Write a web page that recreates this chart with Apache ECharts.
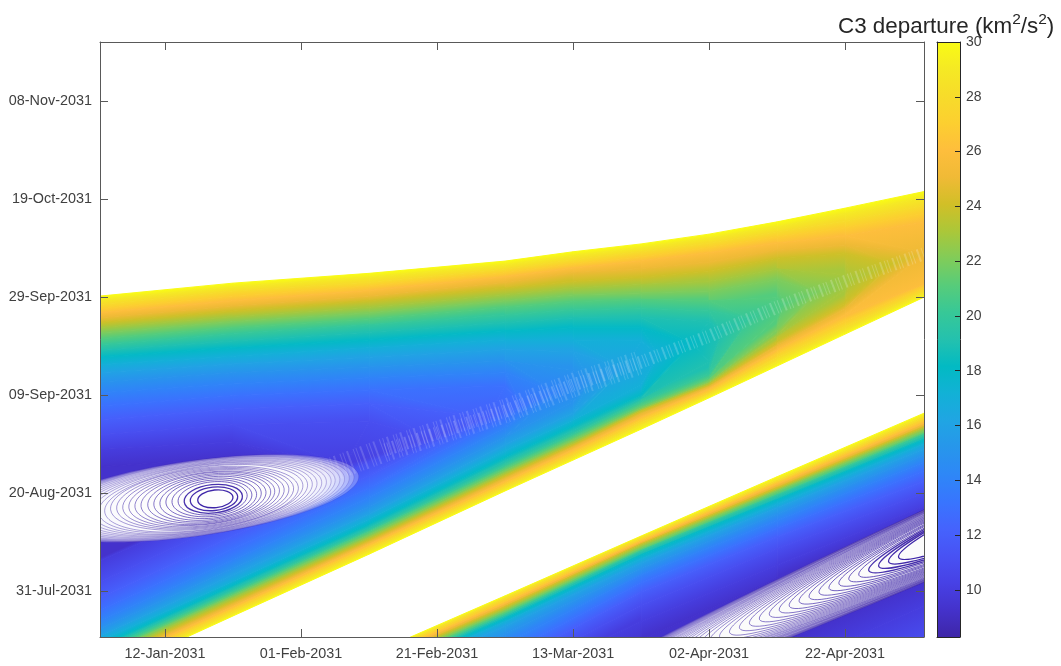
<!DOCTYPE html>
<html>
<head>
<meta charset="utf-8">
<script src="https://cdn.jsdelivr.net/npm/echarts@6/dist/echarts.min.js"></script>
<style>html,body{margin:0;padding:0;background:#fff}#c{width:1061px;height:666px}</style>
</head>
<body>
<div id="c"></div>
<script>
// Axes are in day-of-year 2031 (01-Jan = 0).
const xTickDays = [11, 31, 51, 71, 91, 111];
const xTickLabels = ['12-Jan-2031','01-Feb-2031','21-Feb-2031','13-Mar-2031','02-Apr-2031','22-Apr-2031'];
const yTickDays = [211, 231, 251, 271, 291, 311];
const yTickLabels = ['31-Jul-2031','20-Aug-2031','09-Sep-2031','29-Sep-2031','19-Oct-2031','08-Nov-2031'];
const colorTicks = [10,12,14,16,18,20,22,24,26,28,30];
const c3Min = 8.28, c3Max = 30;

const levels = [30,29,28,27,26,25,24,23,22,21,20,19,18,17,16,15,14,13,12,11,10,9.3];

// Upper window: arrival date of each C3 contour at these departure days.
const upperColumns = [1,21,41,61,71,81,91,101,111,123];
const upperBranch = [
 [271.1,273.8,275.8,278.3,280.2,281.8,283.8,286.3,289.1,292.6],
 [270.3,273.0,275.0,277.5,279.4,281.0,283.0,285.3,287.9,291.4],
 [269.4,272.2,274.0,276.7,278.5,280.2,282.0,284.3,286.5,289.8],
 [268.5,271.2,273.2,275.9,277.7,279.2,281.0,283.2,285.1,288.1],
 [267.7,270.2,272.3,275.1,276.9,278.3,280.0,282.0,283.4,286.3],
 [266.7,269.2,271.2,274.0,275.9,276.8,278.1,280.5,281.6,null],
 [265.7,268.1,270.2,272.8,274.2,275.0,276.3,278.9,279.8,null],
 [264.7,267.0,268.9,271.5,272.8,273.5,274.2,276.7,275.5,null],
 [263.6,265.9,267.7,270.2,271.4,271.8,272.2,274.5,null,null],
 [262.4,264.7,266.5,268.9,270.0,270.5,270.2,270.8,null,null],
 [261.2,263.4,265.3,267.3,268.3,268.7,268.1,null,null,null],
 [260.0,262.0,263.8,265.7,266.7,266.8,265.9,null,null,null],
 [258.7,260.6,262.2,264.1,264.7,264.7,null,null,null,null],
 [257.1,258.9,260.6,262.2,262.2,262.0,null,null,null,null],
 [255.5,257.3,258.7,260.2,259.8,null,null,null,null,null],
 [253.6,255.5,256.7,257.9,256.1,null,null,null,null,null],
 [251.4,253.2,254.5,255.5,null,null,null,null,null,null],
 [248.7,250.8,252.0,252.8,null,null,null,null,null,null],
 [245.9,248.1,249.2,null,null,null,null,null,null,null],
 [242.8,244.9,245.5,null,null,null,null,null,null,null],
 [239.8,241.4,null,null,null,null,null,null,null,null],
 [236.3,238.1,null,null,null,null,null,null,null,null]
];
const lowerBranch = [
 [193.2,205.9,218.5,231.4,237.7,244.0,250.4,256.9,263.4,271.2],
 [193.6,206.3,219.0,231.8,238.1,244.7,250.8,257.7,264.0,271.8],
 [194.1,206.8,219.5,232.3,238.6,245.3,251.2,258.5,264.9,272.4],
 [194.7,207.3,220.0,232.8,239.2,245.9,251.6,259.4,266.1,273.2],
 [195.2,207.8,220.5,233.4,239.8,246.5,252.2,260.2,267.3,273.8],
 [195.7,208.3,220.9,233.9,240.3,247.1,252.6,261.0,268.5,null],
 [196.3,208.9,221.4,234.5,240.8,247.7,253.0,261.8,269.7,null],
 [196.9,209.5,221.9,235.0,241.3,248.0,253.4,263.0,272.4,null],
 [197.5,210.0,222.4,235.5,241.8,248.3,253.8,264.3,null,null],
 [197.9,210.5,223.0,236.1,242.4,248.9,254.4,266.7,null,null],
 [198.5,211.0,223.4,236.7,243.0,249.6,255.3,null,null,null],
 [199.0,211.6,224.0,237.5,243.8,250.2,257.7,null,null,null],
 [199.6,212.2,224.7,238.3,244.7,251.0,null,null,null,null],
 [200.6,213.0,225.7,239.6,245.9,253.0,null,null,null,null],
 [201.6,214.3,226.7,240.8,247.3,null,null,null,null,null],
 [203.0,215.7,228.1,242.4,249.6,null,null,null,null,null],
 [204.7,217.3,230.0,244.3,null,null,null,null,null,null],
 [206.7,219.6,232.0,246.3,null,null,null,null,null,null],
 [209.4,222.2,234.5,null,null,null,null,null,null,null],
 [212.6,225.5,237.3,null,null,null,null,null,null,null],
 [216.9,229.2,null,null,null,null,null,null,null,null],
 [221.4,225.9,null,null,null,null,null,null,null,null]
];
// Where a contour closes on the valley: departure day, arrival day.
const tipDeparture = [null,null,null,null,null,123,118,111.7,106.9,101.9,97.0,92.9,88.5,83.5,78.5,73.5,68.5,63.5,58.5,50.0,37.5,33.8];
const tipArrival   = [null,null,null,null,null,280,277.8,274.5,272.0,269.4,266.7,264.0,261.6,259.2,256.5,254.0,251.6,248.9,246.5,242.2,236.7,235.7];

// Lower window.
const lowerColumns = [41,61,81,101,123];
const lowerWindowTop = [
 [197.9,210.0,222.2,234.3,247.5],
 [197.6,209.7,222.0,233.8,247.0],
 [197.3,209.4,221.7,233.5,246.5],
 [196.9,208.9,221.4,233.2,246.0],
 [196.5,208.5,221.1,232.8,245.5],
 [196.1,208.1,220.8,232.4,245.1],
 [195.7,207.7,220.6,232.0,244.7],
 [195.3,207.3,220.2,231.7,244.3],
 [194.9,206.9,219.8,231.4,243.8],
 [194.5,206.5,219.4,230.8,243.4],
 [194.1,206.1,219.2,230.6,243.0],
 [193.7,205.8,218.7,230.0,242.5],
 [193.2,205.3,218.3,229.6,242.0],
 [192.6,204.7,217.5,228.7,241.2],
 [191.8,203.8,216.7,227.9,240.2],
 [190.2,202.2,215.5,226.7,238.9],
 [188.1,200.2,214.3,225.3,237.5],
 [186.1,198.1,212.6,223.8,235.7],
 [183.8,195.9,210.8,222.0,233.6],
 [181.6,193.6,208.1,219.6,231.2],
 [179.6,191.6,204.7,216.3,228.5],
 [170.0,185.0,201.0,213.6,226.7]
];
const lowerWindowBottom = [
 [150,150,150,150,150],[150,150,150,150,150],[150,150,150,150,150],[150,150,150,150,150],
 [150,150,150,150,150],[150,150,150,150,150],[150,150,150,150,150],[150,150,150,150,150],
 [150,150,150,150,150],[150,150,150,150,150],[150,150,150,150,150],[150,150,150,150,150],
 [150,150,150,150,150],[150,150,150,150,150],[150,150,150,150,150],[150,150,150,150,150],
 [150,150,150,150,150],[150,150,150,150,150],[150,150,150,150,150],
 [150,150,150,187.7,200.8],
 [150,169.4,181.6,194.5,208.1],
 [160,175,187.7,200.0,213.2]
];

// Closed low contours near each minimum: centre departure, centre arrival, half length, half height, tilt.
const upperMinimumRings = [
 [15.4,229.9,24.3,7.7,8],[15.5,229.9,23.5,7.65,8],[15.6,229.9,22.7,7.6,8],[15.7,229.9,21.9,7.5,8],
 [15.8,229.9,21.1,7.45,8],[15.9,229.9,20.3,7.3,8],[16.1,229.9,19.5,7.2,8],[16.2,229.9,18.7,7.05,8],
 [16.3,229.9,17.9,6.95,8],[16.4,229.9,17.1,6.8,8],[16.5,229.9,16.3,6.7,8],[16.6,229.9,15.5,6.5,8],
 [16.7,229.9,14.7,6.35,8],[16.8,229.9,13.9,6.15,7],[16.9,229.9,13.1,5.95,7],[17.0,229.9,12.3,5.75,7],
 [17.1,229.9,11.5,5.55,7],[17.2,229.9,10.7,5.3,7],[17.3,229.9,9.9,5.15,7],[17.5,229.9,9.1,4.9,7],
 [17.6,229.9,8.3,4.65,7],[17.7,229.9,7.5,4.35,7],[17.8,229.9,6.7,4.05,6],[17.9,229.9,5.9,3.7,6],
 [18.0,229.9,5.1,3.35,6],[18.1,229.8,4.3,2.9,6],[18.2,229.8,3.5,2.4,6],[18.4,229.8,2.6,1.8,6]
];
const lowerMinimumRings = [
 [151.4,237.9,100.0,7.1,24],[151.4,237.9,98.4,7.1,24],[151.4,237.9,96.8,7.1,24],[151.4,237.9,95.2,7.1,24],
 [151.4,237.9,93.6,7.1,24],[151.4,237.9,92.0,7.1,24],[151.4,237.9,90.4,7.1,24],[151.4,237.9,88.8,7.1,24],
 [151.4,237.9,87.2,7.1,24],[151.4,237.9,85.6,7.1,24],[151.4,237.9,84.0,7.1,24],[151.4,237.9,82.4,7.0,24],
 [151.4,237.9,80.8,7.0,24],[151.4,237.9,79.0,7.0,24],
 [151.4,237.9,77.2,7.0,24],[151.4,237.9,75.6,7.0,24],[151.4,237.9,74.0,6.9,24],[151.4,237.9,72.4,6.9,24],
 [151.4,237.9,70.8,6.8,24],[151.4,237.9,69.2,6.8,24],[151.4,237.9,67.6,6.7,24],[151.4,237.9,66.0,6.6,24],
 [151.4,237.9,64.4,6.5,24],[151.4,237.9,62.8,6.4,24],[151.4,237.9,61.2,6.3,24],[151.4,237.9,59.6,6.2,24],
 [151.4,237.9,58.0,6.1,24],[151.4,237.9,56.4,6.0,24],[151.4,237.9,54.8,5.9,24],[151.4,237.9,53.2,5.8,24],
 [151.4,237.9,51.6,5.7,24],[151.4,237.9,50.0,5.6,24],[151.4,237.9,48.4,5.5,24],[151.4,237.9,46.8,5.3,24],
 [151.4,237.9,45.2,5.2,24],[151.4,237.9,43.6,5.1,24],[151.4,237.9,42.0,4.9,24],[151.4,237.9,40.4,4.8,24],
 [151.4,237.9,38.8,4.6,24],[151.4,237.9,37.2,4.5,24],[151.4,237.9,35.6,4.3,24]
];

// The thin valley of broken contours.
const valleyDeparture = [33.8,43.4,61,71,81,91,101,111.7,122.6];
const valleyArrival   = [234.9,239.8,247.7,253,257.7,263,268.9,274.5,279.8];

// Parula colour map.
const parula = [
 [62,38,168],[68,50,203],[71,65,229],[72,82,244],[69,99,253],[56,117,254],[46,135,247],
 [39,150,235],[32,165,227],[18,177,214],[2,186,195],[36,193,174],[55,200,151],[87,204,122],
 [129,204,89],[171,199,57],[209,191,39],[240,186,54],[254,190,60],[252,207,48],[247,220,42],[245,233,36],[249,251,21]
];

function colorAt(v){
  const t = Math.min(1, Math.max(0, (v - c3Min) / (c3Max - c3Min))) * (parula.length - 1);
  const i = Math.min(parula.length - 2, Math.floor(t)), f = t - i;
  const a = parula[i], b = parula[i + 1];
  return 'rgb(' + [0,1,2].map(k => Math.round(a[k] + (b[k] - a[k]) * f)).join(',') + ')';
}

// A mesh cell between two neighbouring contours, shaded from one level's colour to the next.
function foot(p, a, b){
  const dx = b[0]-a[0], dy = b[1]-a[1], l = dx*dx+dy*dy;
  if (l < 1e-6) return a;
  const t = ((p[0]-a[0])*dx + (p[1]-a[1])*dy) / l;
  return [a[0]+t*dx, a[1]+t*dy];
}
function cell(outerEdge, innerEdge, vOuter, vInner){
  const oCol = colorAt(vOuter), iCol = colorAt(vInner);
  let from, to;
  if (outerEdge.length === 2 && Math.hypot(outerEdge[1][0]-outerEdge[0][0], outerEdge[1][1]-outerEdge[0][1]) > 1e-3) {
    to = innerEdge.length === 2 ? [(innerEdge[0][0]+innerEdge[1][0])/2, (innerEdge[0][1]+innerEdge[1][1])/2] : innerEdge[0];
    from = foot(to, outerEdge[0], outerEdge[1]);
  } else {
    from = outerEdge[0];
    to = innerEdge.length === 2 ? foot(from, innerEdge[0], innerEdge[1]) : innerEdge[0];
  }
  const pts = outerEdge.concat(innerEdge.slice().reverse());
  let paint = colorAt((vOuter + vInner) / 2);
  if (Math.hypot(to[0]-from[0], to[1]-from[1]) > 0.05)
    paint = new echarts.graphic.LinearGradient(from[0], from[1], to[0], to[1], [{offset:0,color:oCol},{offset:1,color:iCol}], true);
  return {type:'polygon', shape:{points:pts}, style:{fill:paint, stroke:paint, lineWidth:1}};
}
function branchCells(rows, cols, tipX, tipY, i, api, out){
  const vo = levels[i], vi = levels[i+1];
  const at = (r, c) => rows[r][c] == null ? null : api.coord([cols[c], rows[r][c]]);
  const tipI = tipX && tipX[i+1] != null ? api.coord([tipX[i+1], tipY[i+1]]) : null;
  const tipO = tipX && tipX[i] != null ? api.coord([tipX[i], tipY[i]]) : null;
  let lastInner = -1;
  for (let c = 0; c < cols.length; c++) {
    const a = at(i, c), b = c + 1 < cols.length ? at(i, c+1) : null, d = at(i+1, c), e = c + 1 < cols.length ? at(i+1, c+1) : null;
    if (d) lastInner = c;
    if (a && b && d && e) out.push(cell([a, b], [d, e], vo, vi));
  }
  if (tipI && lastInner >= 0) {
    const base = [];
    for (let c = lastInner; c < cols.length; c++) { const a = at(i, c); if (a) base.push(a); }
    if (tipO) base.push(tipO);
    out.push(cell([base[0]], [at(i+1, lastInner), tipI], vo, vi));
    for (let k = 0; k + 1 < base.length; k++) out.push(cell([base[k], base[k+1]], [tipI], vo, vi));
  }
}
function regionItem(top, bottom, cols, tipX, tipY, i, api){
  const children = [];
  if (i + 1 < levels.length) {
    branchCells(top, cols, tipX, tipY, i, api, children);
    branchCells(bottom, cols, tipX, tipY, i, api, children);
    // Right-hand closure where the outer contour runs off the plot and the inner one closes on it.
    if (tipX && tipX[i] == null && tipX[i+1] != null) {
      const n = cols.length - 1;
      children.push({type:'polygon', shape:{points:[api.coord([cols[n], top[i][n]]), api.coord([cols[n], bottom[i][n]]), api.coord([tipX[i+1], tipY[i+1]])]},
        style:{fill:colorAt(levels[i]-0.5), stroke:colorAt(levels[i]-0.5), lineWidth:1}});
    }
  } else {
    const pts = [];
    cols.forEach((d, c) => { if (top[i][c] != null) pts.push(api.coord([d, top[i][c]])); });
    if (tipX && tipX[i] != null) pts.push(api.coord([tipX[i], tipY[i]]));
    for (let c = cols.length - 1; c >= 0; c--) if (bottom[i][c] != null) pts.push(api.coord([cols[c], bottom[i][c]]));
    children.push({type:'polygon', shape:{points:pts}, style:{fill:colorAt(levels[i]), stroke:colorAt(levels[i]), lineWidth:1}});
  }
  return {type:'group', children};
}
function ringItem(rows, api, fillAlpha){
  const i = api.value(0), r = rows[i];
  const c = api.coord([r[0], r[1]]), s = api.size([1,1]);
  const inner = i / (rows.length - 1);
  return {type:'ellipse', x:c[0], y:c[1], rotation:r[4] * Math.PI / 180,
    shape:{cx:0, cy:0, rx:r[2] * s[0], ry:r[3] * s[1]},
    style:{fill:'rgba(255,255,255,' + fillAlpha + ')',
      stroke:'rgba(62,38,168,' + (0.2 + 0.8 * inner) + ')', lineWidth:inner > 0.9 ? 1.3 : 0.75}};
}
const idx = a => a.map((_, i) => [i]);

const chart = echarts.init(document.getElementById('c'));
const axisCol = '#595959', textCol = '#404040', fontFam = '"Liberation Sans", Arial, sans-serif';
const xMin = 1.44, xMax = 122.6, yMin = 201.6, yMax = 323;

function fmt(ticks, labels){ return v => { const i = ticks.indexOf(v); return i < 0 ? '' : labels[i]; }; }
function dateAxis(extra, ticks){
  return Object.assign({type:'value', splitLine:{show:false}, z:5,
    axisLine:{show:true, onZero:false, lineStyle:{color:axisCol, width:1}},
    axisTick:{show:true, inside:true, length:8, customValues:ticks, lineStyle:{color:axisCol, width:1}}}, extra);
}

chart.setOption({
  animation:false,
  backgroundColor:'#fff',
  title:{left:838, top:8, padding:0, text:'{a|C3 departure (km}{s|2}{a|/s}{s|2}{a|)}',
    textStyle:{fontWeight:'normal', rich:{
      a:{fontFamily:fontFam, fontSize:22.4, fontWeight:'normal', color:'#262626', verticalAlign:'bottom', lineHeight:30},
      s:{fontFamily:fontFam, fontSize:15.5, fontWeight:'normal', color:'#262626', verticalAlign:'bottom', padding:[0,0,10,0], lineHeight:30}
    }}},
  grid:[
    {left:100, right:137, top:42, bottom:29},
    {left:937, right:101, top:42, bottom:29}
  ],
  xAxis:[
    dateAxis({gridIndex:0, position:'bottom', min:xMin, max:xMax,
      axisLabel:{show:true, customValues:xTickDays, formatter:fmt(xTickDays, xTickLabels), color:textCol, fontFamily:fontFam, fontSize:14.4, margin:10}}, xTickDays),
    dateAxis({gridIndex:0, position:'top', min:xMin, max:xMax, axisLabel:{show:false}}, xTickDays),
    {gridIndex:1, type:'value', min:0, max:1, position:'bottom', z:5, axisLine:{show:true,onZero:false,lineStyle:{color:'#262626'}}, axisTick:{show:false}, axisLabel:{show:false}, splitLine:{show:false}},
    {gridIndex:1, type:'value', min:0, max:1, position:'top', z:5, axisLine:{show:true,onZero:false,lineStyle:{color:'#262626'}}, axisTick:{show:false}, axisLabel:{show:false}, splitLine:{show:false}}
  ],
  yAxis:[
    dateAxis({gridIndex:0, position:'left', min:yMin, max:yMax,
      axisLabel:{show:true, customValues:yTickDays, formatter:fmt(yTickDays, yTickLabels), color:textCol, fontFamily:fontFam, fontSize:14.4, margin:8}}, yTickDays),
    dateAxis({gridIndex:0, position:'right', min:yMin, max:yMax, axisLabel:{show:false}}, yTickDays),
    {gridIndex:1, type:'value', min:c3Min, max:c3Max, position:'left', z:5, axisLine:{show:true,onZero:false,lineStyle:{color:'#262626'}}, axisTick:{show:false}, axisLabel:{show:false}, splitLine:{show:false}},
    {gridIndex:1, type:'value', min:c3Min, max:c3Max, position:'right', z:5, splitLine:{show:false},
      axisLine:{show:true,onZero:false,lineStyle:{color:'#262626'}},
      axisTick:{show:true, inside:true, length:5, customValues:colorTicks, lineStyle:{color:'#262626'}},
      axisLabel:{show:true, customValues:colorTicks, color:textCol, fontFamily:fontFam, fontSize:14, margin:6}}
  ],
  series:[
    {type:'custom', xAxisIndex:0, yAxisIndex:0, clip:true, silent:true, data:idx(levels), z:2,
      renderItem:(p, api) => regionItem(upperBranch, lowerBranch, upperColumns, tipDeparture, tipArrival, api.value(0), api)},
    {type:'custom', xAxisIndex:0, yAxisIndex:0, clip:true, silent:true, data:idx(levels), z:2,
      renderItem:(p, api) => regionItem(lowerWindowTop, lowerWindowBottom, lowerColumns, null, null, api.value(0), api)},
    {type:'line', xAxisIndex:0, yAxisIndex:0, silent:true, showSymbol:false, z:3, clip:true,
      data:valleyDeparture.slice(1).map((d, i) => [d, valleyArrival[i+1]]),
      lineStyle:{color:'rgba(255,255,255,0.2)', width:13, type:[1,2,1,4,2,3]}},
    {type:'line', xAxisIndex:0, yAxisIndex:0, silent:true, showSymbol:false, z:3, clip:true,
      data:valleyDeparture.slice(0,5).map((d, i) => [d, valleyArrival[i]]),
      lineStyle:{color:'rgba(255,255,255,0.16)', width:24, type:[1,3,2,5,1,2]}},
    {type:'custom', xAxisIndex:0, yAxisIndex:0, clip:true, silent:true, data:idx(upperMinimumRings), z:4,
      renderItem:(p, api) => ringItem(upperMinimumRings, api, 0.26)},
    {type:'custom', xAxisIndex:0, yAxisIndex:0, clip:true, silent:true, data:idx(lowerMinimumRings), z:4,
      renderItem:(p, api) => ringItem(lowerMinimumRings, api, 0.17)},
    {type:'custom', xAxisIndex:2, yAxisIndex:2, silent:true, z:2, data:[[0, c3Min, 1, c3Max]],
      renderItem:(p, api) => {
        const a = api.coord([api.value(0), api.value(3)]), b = api.coord([api.value(2), api.value(1)]);
        return {type:'rect', shape:{x:a[0], y:a[1], width:b[0]-a[0], height:b[1]-a[1]},
          style:{fill:new echarts.graphic.LinearGradient(0,1,0,0,
            parula.map((c, i) => ({offset:i / (parula.length - 1), color:'rgb(' + c.join(',') + ')'})))}};
      }}
  ]
});
</script>
</body>
</html>
